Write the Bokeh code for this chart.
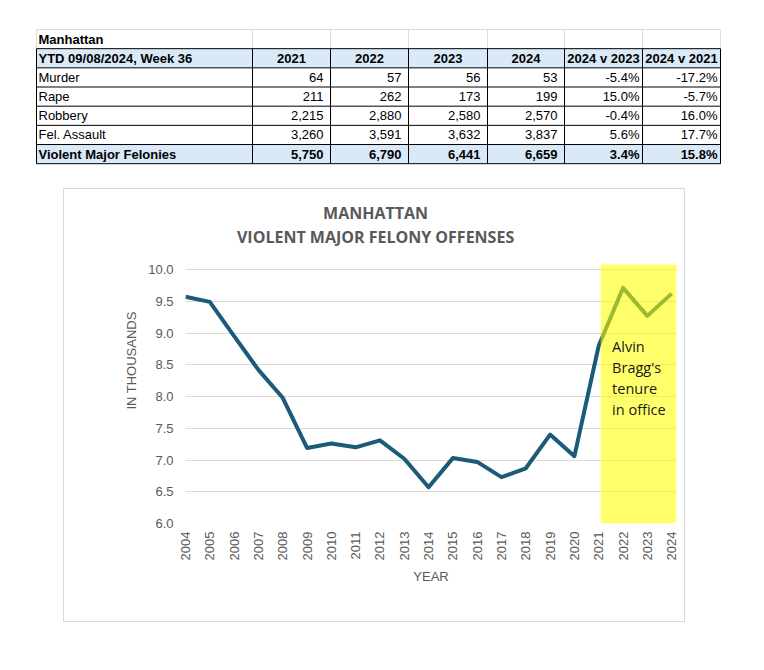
import math
from bokeh.plotting import figure
from bokeh.models import Range1d, FixedTicker, Spacer, PrintfTickFormatter
from bokeh.layouts import column, row
from bokeh.core.properties import value
from bokeh.embed import file_html
from bokeh.resources import INLINE

# ---------------- table data ----------------
table_title = "Manhattan"
header_label = "YTD 09/08/2024, Week 36"
header_cols = ["2021", "2022", "2023", "2024", "2024 v 2023", "2024 v 2021"]
crime_types = ["Murder", "Rape", "Robbery", "Fel. Assault", "Violent Major Felonies"]
ytd_2021 = [64, 211, 2215, 3260, 5750]
ytd_2022 = [57, 262, 2880, 3591, 6790]
ytd_2023 = [56, 173, 2580, 3632, 6441]
ytd_2024 = [53, 199, 2570, 3837, 6659]
chg_24_v_23 = [-5.4, 15.0, -0.4, 5.6, 3.4]
chg_24_v_21 = [-17.2, -5.7, 16.0, 17.7, 15.8]

# ---------------- chart data ----------------
years = list(range(2004, 2025))
offenses_k = [9.57, 9.49, 8.95, 8.42, 7.98, 7.19, 7.26, 7.20, 7.31, 7.02, 6.57,
              7.03, 6.97, 6.73, 6.87, 7.40, 7.06, 8.80, 9.71, 9.27, 9.62]
y_ticks = [6.0, 6.5, 7.0, 7.5, 8.0, 8.5, 9.0, 9.5, 10.0]
tenure_years = [2021, 2024]
tenure_text = ["Alvin", "Bragg's", "tenure", "in office"]
chart_title = ["MANHATTAN", "VIOLENT MAJOR FELONY OFFENSES"]

# ---------------- table figure ----------------
TW, TH = 740, 180
tp = figure(width=TW, height=TH, x_range=Range1d(0, TW), y_range=Range1d(TH, 0),
            toolbar_location=None, output_backend="svg", min_border=0,
            x_axis_location=None, y_axis_location=None, outline_line_color=None)
tp.grid.visible = False

col_edges = [28, 244, 322, 400, 479, 556, 634, 712]
row_top = 21
row_h = 19.17
n_rows = 7
row_edges = [row_top + i * row_h for i in range(n_rows + 1)]
blue_fill = "#dae9f8"
FONT = "Liberation Sans"
FS = "13px"

for r in (1, n_rows - 1):
    tp.quad(left=[col_edges[0]], right=[col_edges[-1]], top=[row_edges[r]],
            bottom=[row_edges[r + 1]], fill_color=blue_fill, line_color=None)

tp.segment(x0=[col_edges[0]], x1=[col_edges[-1]], y0=[row_edges[0]], y1=[row_edges[0]],
           line_color="#dcdcdc", line_width=1)
tp.segment(x0=col_edges, x1=col_edges, y0=[row_edges[0]] * len(col_edges),
           y1=[row_edges[1]] * len(col_edges), line_color="#dcdcdc", line_width=1)
hy = row_edges[1:]
tp.segment(x0=[col_edges[0]] * len(hy), x1=[col_edges[-1]] * len(hy), y0=hy, y1=hy,
           line_color="#000000", line_width=1)
tp.segment(x0=col_edges, x1=col_edges, y0=[row_edges[1]] * len(col_edges),
           y1=[row_edges[-1]] * len(col_edges), line_color="#000000", line_width=1)

def rc(r):
    return (row_edges[r] + row_edges[r + 1]) / 2

tp.text(x=[col_edges[0] + 2], y=[rc(0)], text=[table_title], text_font=value(FONT),
        text_font_size=FS, text_font_style="bold", text_baseline="middle",
        text_align="left", text_color="#000000")
tp.text(x=[col_edges[0] + 2], y=[rc(1)], text=[header_label], text_font=value(FONT),
        text_font_size=FS, text_font_style="bold", text_baseline="middle",
        text_align="left", text_color="#000000")
hx = [(col_edges[i] + col_edges[i + 1]) / 2 for i in range(1, len(col_edges) - 1)]
tp.text(x=hx, y=[rc(1)] * len(hx), text=header_cols, text_font=value(FONT),
        text_font_size=FS, text_font_style="bold", text_baseline="middle",
        text_align="center", text_color="#000000")

for i, name in enumerate(crime_types):
    r = i + 2
    style = "bold" if i == len(crime_types) - 1 else "normal"
    counts = ["{:,}".format(v[i]) for v in (ytd_2021, ytd_2022, ytd_2023, ytd_2024)]
    pcts = ["{:.1f}%".format(v[i]) for v in (chg_24_v_23, chg_24_v_21)]
    tp.text(x=[col_edges[0] + 2], y=[rc(r)], text=[name], text_font=value(FONT),
            text_font_size=FS, text_font_style=style, text_baseline="middle",
            text_align="left", text_color="#000000")
    cx = [col_edges[j] - 7 for j in range(2, 6)]
    tp.text(x=cx, y=[rc(r)] * 4, text=counts, text_font=value(FONT),
            text_font_size=FS, text_font_style=style, text_baseline="middle",
            text_align="right", text_color="#000000")
    px = [col_edges[j] - 3 for j in range(6, 8)]
    tp.text(x=px, y=[rc(r)] * 2, text=pcts, text_font=value(FONT),
            text_font_size=FS, text_font_style=style, text_baseline="middle",
            text_align="right", text_color="#000000")

# ---------------- chart figure ----------------
X_END = 2024.2
Y_BOX_TOP = 10.08
Y_TOP = 11.134
cp = figure(width=622, height=434, x_range=Range1d(years[0], X_END),
            y_range=Range1d(y_ticks[0], Y_TOP),
            toolbar_location=None, output_backend="svg",
            min_border_left=121, min_border_right=10, min_border_top=8,
            min_border_bottom=100, outline_line_color=None)
cp.styles = {"border": "1px solid #d9d9d9"}

cp.xgrid.visible = False
cp.ygrid.grid_line_color = "#d9d9d9"
cp.ygrid.grid_line_width = 1

gray = "#595959"
cp.xaxis.ticker = FixedTicker(ticks=years)
cp.xaxis.major_label_orientation = math.pi / 2
cp.yaxis.ticker = FixedTicker(ticks=y_ticks)
cp.yaxis.formatter = PrintfTickFormatter(format="%.1f")
for ax in (cp.xaxis[0], cp.yaxis[0]):
    ax.axis_line_color = None
    ax.major_tick_line_color = None
    ax.minor_tick_line_color = None
    ax.major_tick_in = 0
    ax.major_tick_out = 0
    ax.minor_tick_in = 0
    ax.minor_tick_out = 0
    ax.major_label_text_font = FONT
    ax.major_label_text_font_size = "13px"
    ax.major_label_text_color = gray
    ax.axis_label_text_font = FONT
    ax.axis_label_text_font_size = "13px"
    ax.axis_label_text_font_style = "normal"
    ax.axis_label_text_color = gray
cp.xaxis.major_label_standoff = 8
cp.xaxis.axis_label = "YEAR"
cp.xaxis.axis_label_standoff = 6
cp.yaxis.major_label_standoff = 12
cp.yaxis.axis_label = "IN THOUSANDS"
cp.yaxis.axis_label_standoff = 6

cp.line(years, offenses_k, line_color="#1b5a78", line_width=4, line_join="round")

cp.quad(left=[tenure_years[0] + 0.08], right=[X_END], bottom=[y_ticks[0]], top=[Y_BOX_TOP],
        fill_color="#ffff00", fill_alpha=0.58, line_color=None)

ty0 = 8.795
tstep = 0.3355
cp.text(x=[tenure_years[0] + 0.55] * len(tenure_text),
        y=[ty0 - i * tstep for i in range(len(tenure_text))],
        text=tenure_text, text_font=value("Open Sans"), text_font_size="14.5px",
        text_color="#1a1a1a", text_baseline="middle", text_align="left")

title_x = 2011.82
cp.text(x=[title_x, title_x], y=[10.89, 10.512], text=chart_title,
        text_align="center", text_baseline="middle", text_font=value("Open Sans"),
        text_font_size="16px", text_font_style="bold", text_color=gray)

layout = row(Spacer(width=8),
             column(Spacer(height=8), tp, row(Spacer(width=55, height=434), cp)))

open("out.html", "w").write(file_html(layout, INLINE))
